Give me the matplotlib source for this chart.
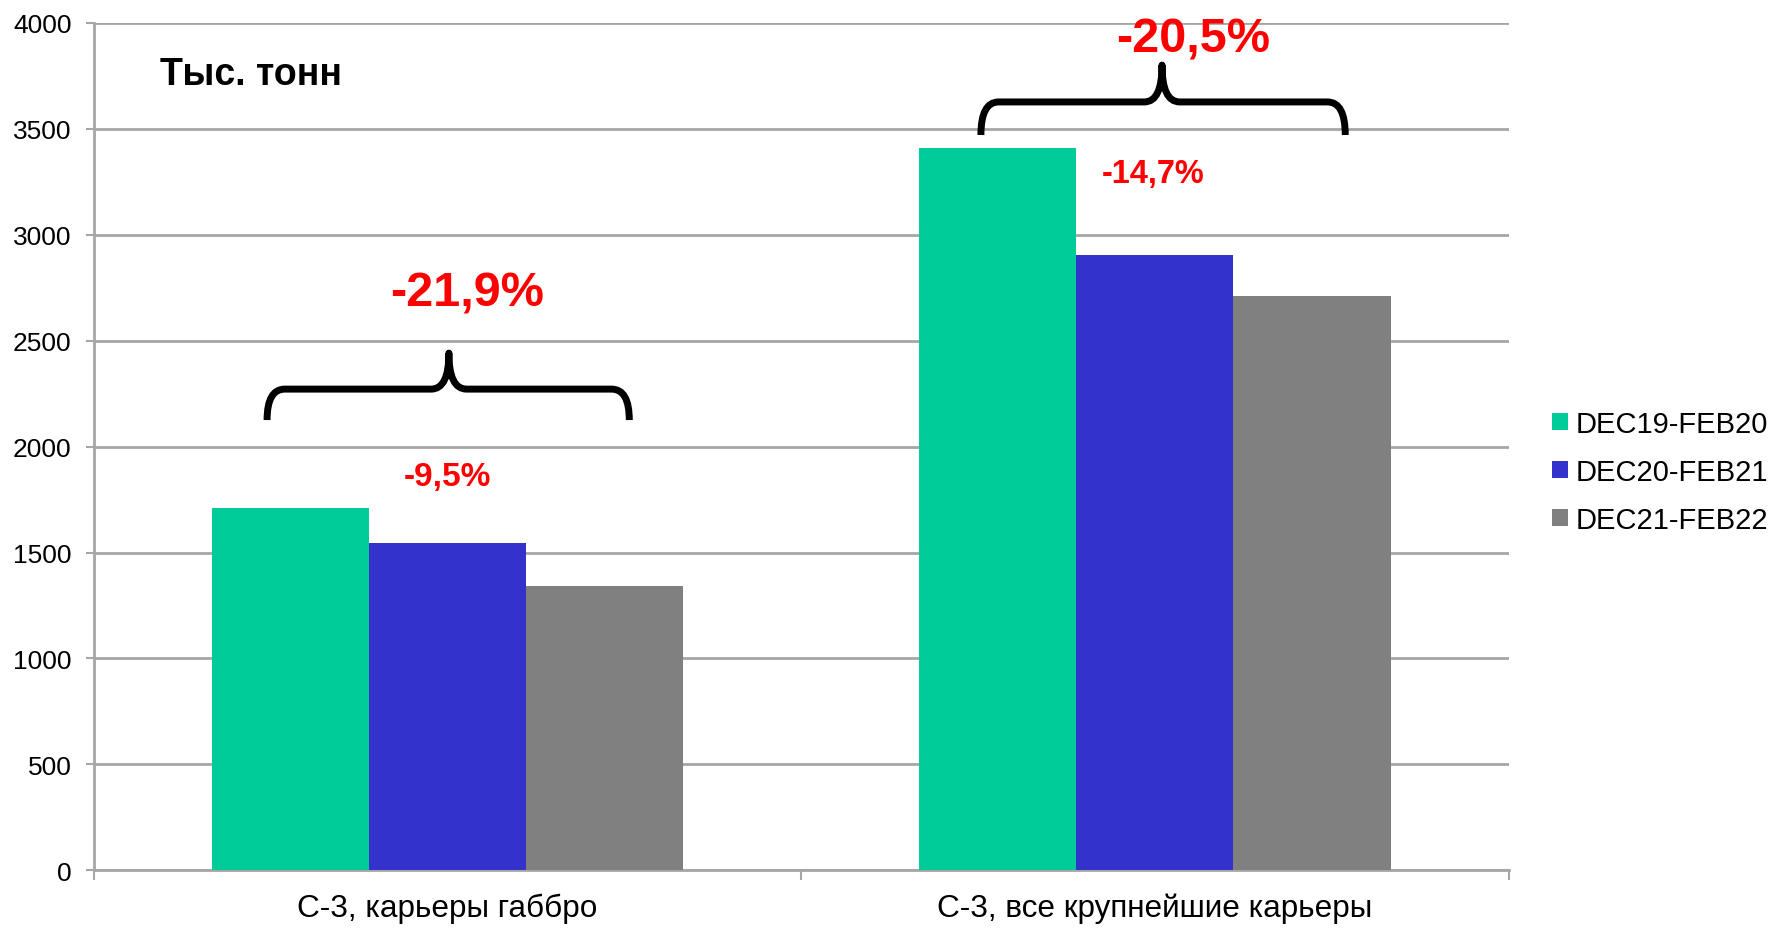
import numpy as np
from matplotlib import pyplot as plt
from matplotlib.path import Path
from matplotlib.patches import PathPatch

plt.rcParams['font.family'] = ['Liberation Sans', 'DejaVu Sans']

## data
categories = ['С-3, карьеры габбро', 'С-3, все крупнейшие карьеры']
series = ['DEC19-FEB20', 'DEC20-FEB21', 'DEC21-FEB22']
values_1920 = [1710, 3410]
values_2021 = [1545, 2905]
values_2122 = [1340, 2710]
small_change = ['-9,5%', '-14,7%']
big_change = ['-21,9%', '-20,5%']
colors = ['#00CC99', '#3333CC', '#808080']

fig = plt.figure(figsize=(17.72, 9.29), dpi=100)
ax = fig.add_axes([0.0529, 0.062, 0.7985, 0.9125])

x = np.arange(len(categories))
bw = 0.222
for i, (vals, lab) in enumerate(zip([values_1920, values_2021, values_2122], series)):
    ax.bar(x + (i - 1) * bw, vals, width=bw, color=colors[i], label=lab, zorder=3)

ax.set_xlim(-0.5, 1.5)
ax.set_ylim(0, 4000)
ax.set_yticks(np.arange(0, 4001, 500))
ax.yaxis.grid(True, color='#a6a6a6', lw=2, zorder=0)
ax.set_xticks([-0.5, 0.5, 1.5])
ax.set_xticklabels([])
ax.set_xticks(x, minor=True)
ax.set_xticklabels(categories, minor=True, fontsize=22.7)
ax.tick_params(axis='x', which='minor', length=0, pad=16)
ax.tick_params(axis='x', which='major', length=7, width=1.5, color='#a6a6a6', direction='out')
ax.tick_params(axis='y', length=6, width=1.5, color='#a6a6a6', labelsize=19, pad=10)
for s in ['top', 'right']:
    ax.spines[s].set_visible(False)
for s in ['left', 'bottom']:
    ax.spines[s].set_color('#a6a6a6')
    ax.spines[s].set_linewidth(2)


def brace(cx, left, right, y0, yh, yt):
    ## curly brace drawn as a path in data coordinates
    r = 0.025
    verts = [(left, y0), (left, yh), (left + r, yh),
             (cx - r, yh), (cx, yh), (cx, yt),
             (cx, yh), (cx + r, yh),
             (right - r, yh), (right, yh), (right, y0)]
    codes = [Path.MOVETO, Path.CURVE3, Path.CURVE3,
             Path.LINETO, Path.CURVE3, Path.CURVE3,
             Path.CURVE3, Path.CURVE3,
             Path.LINETO, Path.CURVE3, Path.CURVE3]
    ax.add_patch(PathPatch(Path(verts, codes), fill=False, lw=5, color='black',
                           capstyle='butt', joinstyle='round', zorder=4, clip_on=False))


brace(0.002, -0.255, 0.257, 2125, 2271, 2441)
brace(1.010, 0.754, 1.269, 3470, 3626, 3800)

ax.text(0.027, 2725, big_change[0], color='red', fontsize=35, fontweight='bold', ha='center', va='center')
ax.text(1.054, 3925, big_change[1], color='red', fontsize=35, fontweight='bold', ha='center', va='center', clip_on=False)
ax.text(0.0, 1860, small_change[0], color='red', fontsize=24, fontweight='bold', ha='center', va='center')
ax.text(0.998, 3290, small_change[1], color='red', fontsize=23.5, fontweight='bold', ha='center', va='center')

ax.text(-0.278, 3760, 'Тыс. тонн', fontsize=27, fontweight='bold', ha='center', va='center')

fig.legend(loc='center left', bbox_to_anchor=(0.876, 0.491), frameon=False, fontsize=21,
           handlelength=0.55, handleheight=0.55, handletextpad=0.25, labelspacing=0.69,
           borderaxespad=0, borderpad=0)

fig.savefig('out.png', dpi=100)
